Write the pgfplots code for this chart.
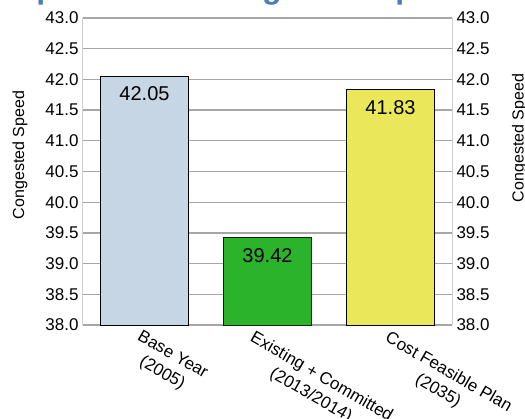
\documentclass[border=0pt]{standalone}
\usepackage{pgfplots}
\pgfplotsset{compat=1.18}
\usepackage{fontspec}
\setmainfont{Liberation Sans}
\definecolor{titleblue}{HTML}{4A7EBB}
\definecolor{barA}{HTML}{C6D6E5}
\definecolor{barB}{HTML}{2BB32B}
\definecolor{barC}{HTML}{EAE85A}
\definecolor{gridgray}{HTML}{A6A6A6}
\definecolor{axgray}{HTML}{CFCFCF}
\pgfplotsset{/pgf/number format/assume math mode=true}
\begin{document}
\begin{tikzpicture}
\useasboundingbox (-83pt,-93pt) rectangle (442pt,325pt);
\clip (-83pt,-93pt) rectangle (442pt,325pt);
\begin{axis}[
  at={(0pt,0pt)}, anchor=south west,
  scale only axis, width=369pt, height=307pt,
  xmin=-0.5, xmax=2.5, ymin=38, ymax=43,
  axis lines=left,
  axis line style={-},
  x axis line style={draw=gridgray, line width=1.2pt},
  y axis line style={draw=axgray, line width=1pt},
  ytick={38,38.5,39,39.5,40,40.5,41,41.5,42,42.5,43},
  yticklabel={\pgfmathprintnumber[fixed,fixed zerofill,precision=1]{\tick}},
  ymajorgrids,
  grid style={draw=gridgray, line width=1.2pt},
  major tick length=0pt,
  tick style={draw=none},
  ticklabel style={font=\fontsize{17}{20}\selectfont},
  yticklabel style={xshift=-1pt},
  xtick={0,1,2},
  xticklabels={},
  nodes near coords={\pgfmathprintnumber[fixed,fixed zerofill,precision=2]{\pgfplotspointmeta}},
  nodes near coords style={anchor=north, yshift=-10pt, inner sep=0pt, font=\fontsize{20}{24}\selectfont, text=black},
  clip=true,
]
\addplot[ybar, bar width=0.72, bar shift=0pt, fill=barA, draw=black, line width=0.8pt] coordinates {(0,42.05)};
\addplot[ybar, bar width=0.72, bar shift=0pt, fill=barB, draw=black!80!barB, line width=0.8pt] coordinates {(1,39.42)};
\addplot[ybar, bar width=0.72, bar shift=0pt, fill=barC, draw=black, line width=0.8pt] coordinates {(2,41.83)};
\coordinate (c0) at (axis cs:0,38);
\coordinate (c1) at (axis cs:1,38);
\coordinate (c2) at (axis cs:2,38);
\end{axis}
\begin{axis}[
  at={(0pt,0pt)}, anchor=south west,
  scale only axis, width=369pt, height=307pt,
  xmin=-0.5, xmax=2.5, ymin=38, ymax=43,
  axis x line=none,
  axis y line*=right,
  axis line style={-, draw=axgray, line width=1pt},
  ytick={38,38.5,39,39.5,40,40.5,41,41.5,42,42.5,43},
  yticklabel={\pgfmathprintnumber[fixed,fixed zerofill,precision=1]{\tick}},
  major tick length=0pt,
  tick style={draw=none},
  ticklabel style={font=\fontsize{17}{20}\selectfont},
  yticklabel style={xshift=1pt},
]
\addplot[draw=none] coordinates {(0,38)};
\end{axis}
\tikzset{catlab/.style={anchor=north west, rotate=-30, align=center, inner sep=0pt, font=\fontsize{17}{21}\selectfont}}
\node[catlab] at ([shift={(-2pt,-4pt)}]c0) {Base Year\\(2005)};
\node[catlab] at ([shift={(-12pt,-5pt)}]c1) {Existing + Committed\\(2013/2014)};
\node[catlab] at ([shift={(0pt,-5pt)}]c2) {Cost Feasible Plan\\(2035)};
\node[anchor=base west, inner sep=0pt, text=titleblue, font=\fontsize{32}{38}\selectfont\bfseries] at (-118pt,326.7pt) {Comparison of Congested Speed};
\node[rotate=90, inner sep=0pt, font=\fontsize{16}{19}\selectfont] at (-63pt,170pt) {Congested Speed};
\node[rotate=90, inner sep=0pt, font=\fontsize{16}{19}\selectfont] at (436.5pt,187pt) {Congested Speed};
\end{tikzpicture}
\end{document}
